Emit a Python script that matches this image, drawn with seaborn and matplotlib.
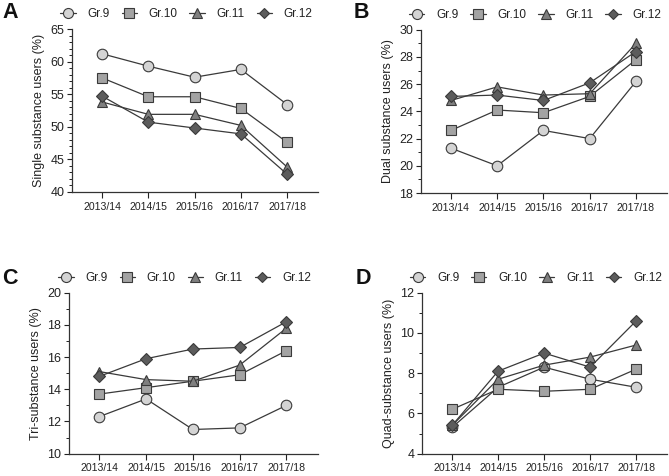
import matplotlib
matplotlib.use("Agg")
import matplotlib.pyplot as plt
import seaborn as sns
import pandas as pd
from matplotlib.ticker import MultipleLocator

years = ["2013/14", "2014/15", "2015/16", "2016/17", "2017/18"]
grades = ["Gr.9", "Gr.10", "Gr.11", "Gr.12"]

single_gr9 = [61.2, 59.3, 57.6, 58.8, 53.4]
single_gr10 = [57.5, 54.6, 54.6, 52.8, 47.6]
single_gr11 = [53.8, 51.9, 51.9, 50.2, 43.8]
single_gr12 = [54.7, 50.7, 49.8, 48.9, 42.7]

dual_gr9 = [21.3, 20.0, 22.6, 22.0, 26.2]
dual_gr10 = [22.6, 24.1, 23.9, 25.1, 27.8]
dual_gr11 = [24.8, 25.8, 25.2, 25.3, 29.0]
dual_gr12 = [25.1, 25.2, 24.8, 26.1, 28.4]

tri_gr9 = [12.3, 13.4, 11.5, 11.6, 13.0]
tri_gr10 = [13.7, 14.1, 14.5, 14.9, 16.4]
tri_gr11 = [15.1, 14.6, 14.5, 15.5, 17.8]
tri_gr12 = [14.8, 15.9, 16.5, 16.6, 18.2]

quad_gr9 = [5.3, 7.3, 8.3, 7.7, 7.3]
quad_gr10 = [6.2, 7.2, 7.1, 7.2, 8.2]
quad_gr11 = [5.4, 7.7, 8.4, 8.8, 9.4]
quad_gr12 = [5.4, 8.1, 9.0, 8.3, 10.6]

panels = [
    ("A", "Single substance users (%)", [single_gr9, single_gr10, single_gr11, single_gr12], (40, 65), 5, 1),
    ("B", "Dual substance users (%)", [dual_gr9, dual_gr10, dual_gr11, dual_gr12], (18, 30), 2, 1),
    ("C", "Tri-substance users (%)", [tri_gr9, tri_gr10, tri_gr11, tri_gr12], (10, 20), 2, 1),
    ("D", "Quad-substance users (%)", [quad_gr9, quad_gr10, quad_gr11, quad_gr12], (4, 12), 2, 1),
]

markers = ["o", "s", "^", "D"]
msizes = [7.6, 7.2, 7.8, 5.8]
fills = ["#d4d4d4", "#a3a3a3", "#7f7f7f", "#5c5c5c"]
edge = "#3a3a3a"
txt = "#222222"

sns.set_theme(style="ticks")
plt.rcParams["font.family"] = ["Liberation Sans", "DejaVu Sans"]

fig = plt.figure(figsize=(6.69, 4.76), dpi=100)
positions = [
    (0.1076, 0.597, 0.368, 0.342),
    (0.629, 0.5945, 0.368, 0.343),
    (0.103, 0.047, 0.372, 0.338),
    (0.631, 0.047, 0.366, 0.338),
]
letter_pos = [(0.003, 0.974), (0.528, 0.974), (0.003, 0.415), (0.531, 0.415)]

for (letter, ylabel, series, ylim, major, minor), pos, lp in zip(panels, positions, letter_pos):
    ax = fig.add_axes(pos)
    for g, vals, m, ms, fc in zip(grades, series, markers, msizes, fills):
        df = pd.DataFrame({"x": range(len(years)), "y": vals})
        sns.lineplot(data=df, x="x", y="y", ax=ax, color=edge, lw=0.9,
                     marker=m, markersize=ms, markerfacecolor=fc,
                     markeredgecolor=edge, markeredgewidth=0.8, label=g)
    h, l = ax.get_legend_handles_labels()
    ax.legend(h, l, ncol=4, loc="center", bbox_to_anchor=(0.465, 1.09),
              frameon=False, fontsize=8.5, handlelength=1.3, handletextpad=1.0,
              columnspacing=1.0, borderaxespad=0.0, labelcolor=txt,
              markerscale=0.95)
    ax.set_xlim(-0.65, 4.67)
    ax.set_ylim(*ylim)
    ax.set_xticks(range(len(years)))
    ax.set_xticklabels(years, fontsize=7.6, color=txt)
    ax.yaxis.set_major_locator(MultipleLocator(major))
    ax.yaxis.set_minor_locator(MultipleLocator(minor))
    ax.tick_params(axis="y", labelsize=9, colors=txt, length=3.5, width=0.8, pad=2)
    ax.tick_params(axis="y", which="minor", length=2.2, width=0.7, colors=txt)
    ax.tick_params(axis="x", length=4, width=0.8, colors=txt, pad=3)
    ax.set_xlabel("")
    ax.set_ylabel(ylabel, fontsize=9, color=txt, labelpad=4)
    for s in ["left", "bottom"]:
        ax.spines[s].set_color("#333333")
        ax.spines[s].set_linewidth(0.9)
    sns.despine(ax=ax)
    fig.text(lp[0], lp[1], letter, fontsize=15.5, fontweight="bold",
             color="#111111", ha="left", va="center")

fig.savefig("out.png", dpi=100)
